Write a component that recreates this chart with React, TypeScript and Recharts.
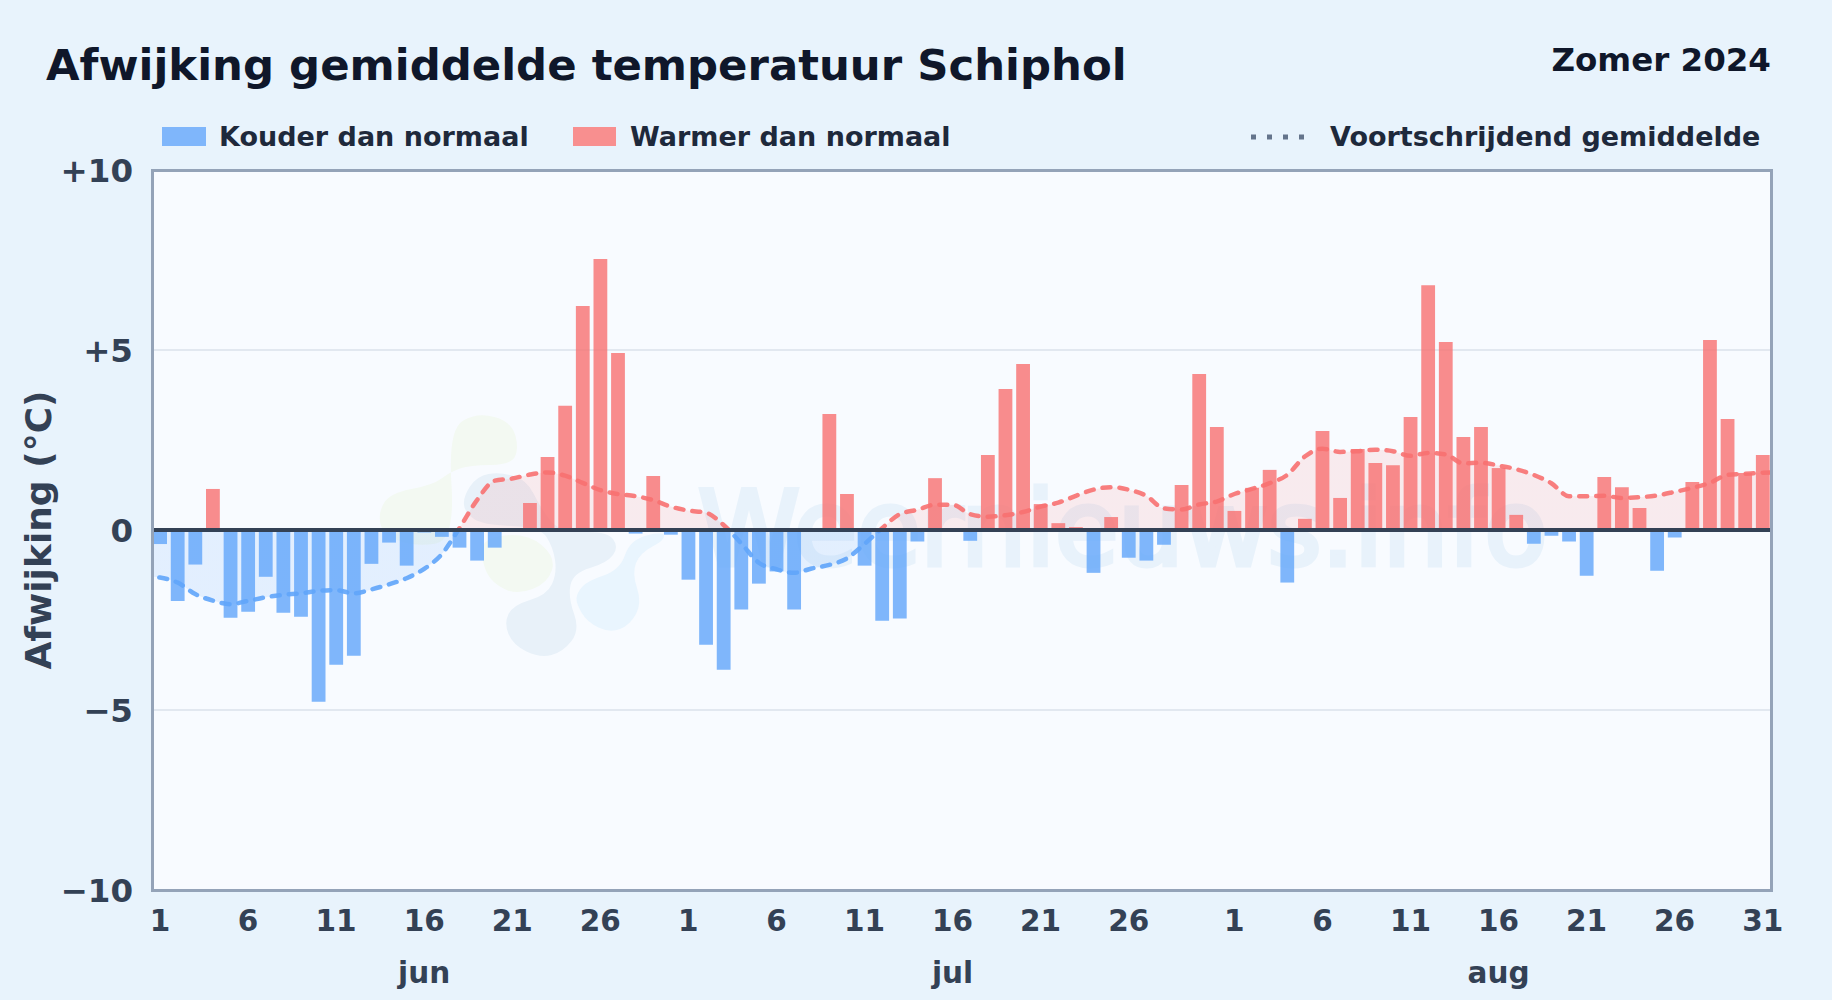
import {
  Area,
  Bar,
  CartesianGrid,
  Cell,
  ComposedChart,
  ReferenceLine,
  XAxis,
  YAxis,
} from 'recharts'

const FONT = '"DejaVu Sans", sans-serif'

// afwijking per dag, 1 jun t/m 31 aug
const deviationJun = [
  -0.39, -1.97, -0.96, 1.14, -2.44, -2.27, -1.3, -2.3, -2.41, -4.77,
  -3.74, -3.49, -0.94, -0.35, -0.99, -0.07, -0.19, -0.49, -0.85, -0.49,
  0, 0.75, 2.03, 3.45, 6.22, 7.53, 4.92, -0.1, 1.5, -0.13,
]
const deviationJul = [
  -1.38, -3.19, -3.88, -2.21, -1.49, -1.15, -2.21, 0, 3.22, 1.0,
  -0.99, -2.52, -2.46, -0.32, 1.44, 0, -0.3, 2.08, 3.92, 4.61,
  0.72, 0.19, 0.08, -1.19, 0.36, -0.77, -0.85, -0.41, 1.25, 4.33, 2.86,
]
const deviationAug = [
  0.53, 1.17, 1.67, -1.46, 0.31, 2.75, 0.89, 2.25, 1.86, 1.8,
  3.14, 6.8, 5.22, 2.58, 2.86, 1.72, 0.42, -0.38, -0.16, -0.32,
  -1.27, 1.47, 1.19, 0.61, -1.13, -0.21, 1.33, 5.28, 3.08, 1.58, 2.08,
]
const deviation = [...deviationJun, ...deviationJul, ...deviationAug]

const movingAvg = [
  -1.32, -1.46, -1.78, -1.96, -2.06, -1.97, -1.87, -1.8, -1.76, -1.69,
  -1.67, -1.76, -1.65, -1.51, -1.34, -1.08, -0.67, 0.05, 0.83, 1.37,
  1.43, 1.54, 1.6, 1.51, 1.31, 1.11, 1.0, 0.94, 0.83, 0.65,
  0.54, 0.48, 0.14, -0.37, -0.91, -1.09, -1.19, -1.07, -0.97, -0.79,
  -0.39, 0.05, 0.44, 0.56, 0.7, 0.7, 0.44, 0.37, 0.41, 0.5,
  0.65, 0.76, 0.95, 1.12, 1.19, 1.12, 0.95, 0.6, 0.57, 0.71,
  0.79, 1.0, 1.14, 1.3, 1.53, 2.04, 2.26, 2.17, 2.19, 2.23,
  2.19, 2.06, 2.14, 2.1, 1.85, 1.87, 1.79, 1.69, 1.53, 1.3,
  0.94, 0.94, 0.95, 0.89, 0.91, 0.96, 1.06, 1.17, 1.31, 1.53,
  1.56, 1.59,
]
// lijn loopt door tot de rand van het plotvlak
const avgBeforeStart = -1.28
const avgAfterEnd = 1.6

const dayTicks = [0, 5, 10, 15, 20, 25, 30, 35, 40, 45, 50, 55, 61, 66, 71, 76, 81, 86, 91]
const dayLabels = ['1', '6', '11', '16', '21', '26', '1', '6', '11', '16', '21', '26', '1', '6', '11', '16', '21', '26', '31']
const monthTicks = [15, 45, 76]
const monthLabels = ['jun', 'jul', 'aug']
const yTicks = [-10, -5, 0, 5, 10]
const yLabels = ['−10', '−5', '0', '+5', '+10']

const X_MIN = -0.454
const X_MAX = 91.5

const rows = [
  { idx: -1, dev: null as number | null, avg: avgBeforeStart },
  ...deviation.map((dev, idx) => ({ idx, dev: dev as number | null, avg: movingAvg[idx] })),
  { idx: 92, dev: null as number | null, avg: avgAfterEnd },
]

// watermerk-logo: gesloten vloeiende vorm door een paar punten
function blob(pts: number[][]) {
  const mid = (a: number[], b: number[]) => [(a[0] + b[0]) / 2, (a[1] + b[1]) / 2]
  const start = mid(pts[pts.length - 1], pts[0])
  let d = `M${start[0]} ${start[1]}`
  pts.forEach((p, i) => {
    const m = mid(p, pts[(i + 1) % pts.length])
    d += ` Q${p[0]} ${p[1]} ${m[0]} ${m[1]}`
  })
  return d + 'Z'
}

const logoGreenTop = [[448, 430], [477, 412], [512, 422], [519, 450], [510, 465], [470, 465], [450, 472], [433, 485], [390, 493], [378, 513], [383, 535], [417, 547], [455, 540]]
const logoGreenLow = [[527, 533], [556, 557], [548, 583], [517, 595], [492, 583], [482, 563], [482, 538]]
const logoBlue = [[463, 497], [477, 476], [500, 472], [527, 480], [540, 507], [560, 533], [607, 531], [619, 547], [607, 563], [573, 573], [568, 597], [580, 630], [563, 652], [540, 658], [513, 645], [504, 623], [513, 605], [547, 595], [557, 573], [553, 547], [540, 527], [483, 525], [465, 513]]
const logoLight = [[577, 593], [587, 581], [620, 570], [630, 540], [663, 531], [665, 540], [640, 553], [632, 573], [642, 603], [630, 625], [610, 633], [587, 622], [576, 603]]

function Watermark() {
  return (
    <svg width={1832} height={1000} style={{ position: 'absolute', left: 0, top: 0 }}>
      <path d={blob(logoGreenTop)} fill="#f3f9f2" />
      <path d={blob(logoGreenLow)} fill="#f3f9f2" />
      <path d={blob(logoBlue)} fill="#e8f1f9" />
      <path d={blob(logoLight)} fill="#e9f5fe" />
      <text x={698} y={565} fontFamily={FONT} fontSize={103} fill="#e8f2fb" stroke="#e8f2fb" strokeWidth={5}>
        Weernieuws.info
      </text>
    </svg>
  )
}

function LegendRow() {
  const text = { position: 'absolute', top: 120, fontSize: 27, fontWeight: 700, color: '#1e293b', whiteSpace: 'nowrap', lineHeight: '34px' } as const
  return (
    <>
      <div style={{ position: 'absolute', left: 162, top: 127, width: 44, height: 19, background: '#7fb6fb' }} />
      <div style={{ ...text, left: 219 }}>Kouder dan normaal</div>
      <div style={{ position: 'absolute', left: 573, top: 127, width: 43, height: 19, background: '#f88f8f' }} />
      <div style={{ ...text, left: 630 }}>Warmer dan normaal</div>
      <svg width={60} height={10} style={{ position: 'absolute', left: 1250, top: 132 }}>
        <line x1={1} y1={5} x2={60} y2={5} stroke="#64748b" strokeWidth={5} strokeDasharray="5 11" />
      </svg>
      <div style={{ ...text, left: 1330 }}>Voortschrijdend gemiddelde</div>
    </>
  )
}

export default function App() {
  return (
    <div
      style={{
        position: 'absolute',
        left: 0,
        top: 0,
        width: 1832,
        height: 1000,
        overflow: 'hidden',
        fontFamily: FONT,
        background: '#e8f3fc',
      }}
    >
      <div style={{ position: 'absolute', left: 152, top: 170, width: 1619.5, height: 720, background: '#f8fbff' }} />
      <Watermark />
      <div style={{ position: 'absolute', left: 46, top: 38, fontSize: 43.4, fontWeight: 700, color: '#0f172a', whiteSpace: 'nowrap', lineHeight: '54px' }}>
        Afwijking gemiddelde temperatuur Schiphol
      </div>
      <div style={{ position: 'absolute', right: 61, top: 41, fontSize: 32.5, fontWeight: 700, color: '#0f172a', whiteSpace: 'nowrap', lineHeight: '38px' }}>
        Zomer 2024
      </div>
      <LegendRow />
      <div style={{ position: 'absolute', left: 0, top: 0 }}>
        <ComposedChart
          width={1832}
          height={1000}
          data={rows}
          margin={{ top: 170, right: 60.5, left: 22, bottom: 30 }}
        >
          <defs>
            <linearGradient id="avgStroke" gradientUnits="userSpaceOnUse" x1="0" y1="170" x2="0" y2="890">
              <stop offset="50%" stopColor="#f87171" />
              <stop offset="50%" stopColor="#60a5fa" />
            </linearGradient>
            <linearGradient id="avgFill" gradientUnits="userSpaceOnUse" x1="0" y1="170" x2="0" y2="890">
              <stop offset="50%" stopColor="#f87171" stopOpacity={0.12} />
              <stop offset="50%" stopColor="#60a5fa" stopOpacity={0.14} />
            </linearGradient>
          </defs>
          <CartesianGrid vertical={false} stroke="#e2e8f0" strokeWidth={2} />
          <XAxis
            dataKey="idx"
            type="number"
            domain={[X_MIN, X_MAX]}
            allowDataOverflow
            ticks={dayTicks}
            interval={0}
            tickFormatter={(v: number) => dayLabels[dayTicks.indexOf(v)]}
            tick={{ fill: '#334155', fontSize: 29.5, fontWeight: 700 }}
            tickSize={0}
            tickMargin={20}
            axisLine={false}
            height={50}
          />
          <XAxis
            xAxisId="months"
            dataKey="idx"
            type="number"
            domain={[X_MIN, X_MAX]}
            allowDataOverflow
            ticks={monthTicks}
            interval={0}
            tickFormatter={(v: number) => monthLabels[monthTicks.indexOf(v)]}
            tick={{ fill: '#334155', fontSize: 29.5, fontWeight: 700 }}
            tickSize={0}
            tickMargin={22}
            axisLine={false}
            height={30}
          />
          <YAxis
            type="number"
            domain={[-10, 10]}
            ticks={yTicks}
            interval={0}
            tickFormatter={(v: number) => yLabels[yTicks.indexOf(v)]}
            tick={{ fill: '#334155', fontSize: 32.5, fontWeight: 700 }}
            tickSize={0}
            tickMargin={19}
            axisLine={false}
            width={130}
            label={{
              value: 'Afwijking (°C)',
              angle: -90,
              position: 'insideLeft',
              offset: 16,
              style: { textAnchor: 'middle', fill: '#334155', fontSize: 36, fontWeight: 700 },
            }}
          />
          <Bar dataKey="dev" barSize={13.8} isAnimationActive={false}>
            {rows.map((r) => (
              <Cell key={r.idx} fill={(r.dev ?? 0) < 0 ? '#60a5fa' : '#f87171'} fillOpacity={0.8} />
            ))}
          </Bar>
          <Area
            dataKey="avg"
            type="monotone"
            baseValue={0}
            stroke="url(#avgStroke)"
            strokeWidth={4.5}
            strokeOpacity={0.9}
            strokeDasharray="8 9"
            strokeLinecap="round"
            fill="url(#avgFill)"
            fillOpacity={1}
            dot={false}
            activeDot={false}
            isAnimationActive={false}
          />
          <ReferenceLine y={0} stroke="#334155" strokeWidth={4} />
        </ComposedChart>
      </div>
      <div style={{ position: 'absolute', left: 150.5, top: 168.5, width: 1622.5, height: 723, boxShadow: 'inset 0 0 0 3px #94a3b8', pointerEvents: 'none' }} />
    </div>
  )
}
